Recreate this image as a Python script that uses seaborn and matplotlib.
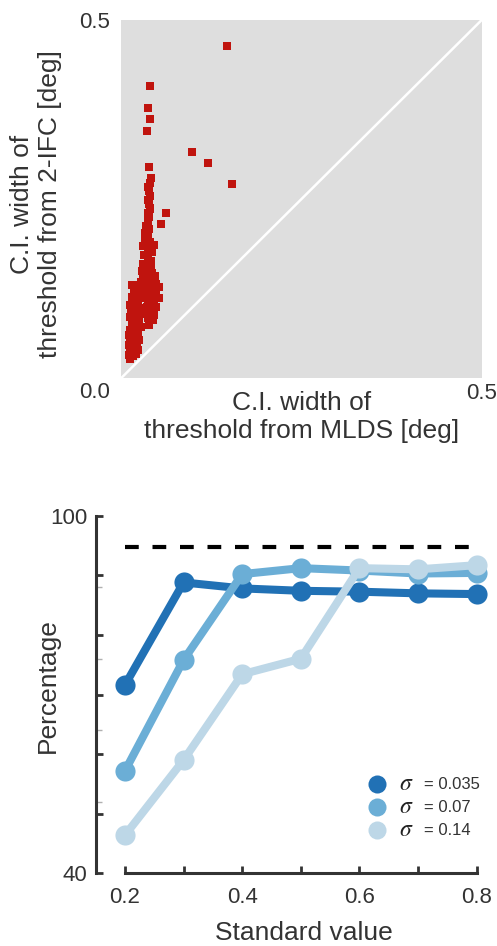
import numpy as np
import pandas as pd
import matplotlib
matplotlib.use("Agg")
import matplotlib.pyplot as plt
import seaborn as sns
from matplotlib.lines import Line2D

# ---------------- data: top panel (C.I. widths, deg) ----------------
mlds_ci = [
    # isolated points
    0.1465, 0.0402, 0.0379, 0.0402, 0.0360, 0.0989, 0.1206, 0.1539, 0.0393, 0.0619, 0.0550,
    # narrow upper stem
    0.041, 0.040, 0.038, 0.039, 0.040, 0.038, 0.039, 0.040, 0.038, 0.039, 0.037, 0.035,
    0.039, 0.034, 0.038, 0.033, 0.040, 0.045, 0.031, 0.037, 0.043, 0.032, 0.038, 0.042,
    0.031, 0.036, 0.041,
    # middle
    0.029, 0.035, 0.043, 0.047, 0.030, 0.038, 0.028, 0.034, 0.042, 0.048,
    0.016, 0.022, 0.029, 0.037, 0.045, 0.052, 0.018, 0.026, 0.033, 0.041, 0.049, 0.015,
    0.021, 0.031, 0.038, 0.046, 0.053, 0.024, 0.044,
    0.013, 0.019, 0.027, 0.036, 0.042, 0.048, 0.014, 0.021, 0.030, 0.039, 0.046, 0.013,
    0.019, 0.025, 0.037, 0.044, 0.015, 0.022, 0.039, 0.028,
    # lower tail
    0.012, 0.018, 0.024, 0.011, 0.017, 0.023, 0.012, 0.019, 0.025, 0.011, 0.016, 0.022,
    0.012, 0.018, 0.024, 0.011, 0.016, 0.021, 0.013,
]
ifc_ci = [
    0.4640, 0.4074, 0.3767, 0.3619, 0.3447, 0.3153, 0.3010, 0.2716, 0.2953, 0.2302, 0.2158,
    0.280, 0.273, 0.267, 0.261, 0.255, 0.249, 0.243, 0.237, 0.231, 0.225, 0.219, 0.213,
    0.208, 0.203, 0.199, 0.194, 0.190, 0.186, 0.184, 0.180, 0.177, 0.172, 0.168, 0.164,
    0.160, 0.156, 0.154,
    0.150, 0.148, 0.147, 0.143, 0.141, 0.140, 0.135, 0.133, 0.136, 0.132,
    0.130, 0.128, 0.126, 0.127, 0.125, 0.128, 0.121, 0.119, 0.120, 0.118, 0.117, 0.113,
    0.111, 0.112, 0.110, 0.109, 0.112, 0.106, 0.104,
    0.102, 0.100, 0.098, 0.099, 0.097, 0.100, 0.093, 0.091, 0.090, 0.092, 0.089, 0.085,
    0.083, 0.081, 0.084, 0.082, 0.077, 0.075, 0.075, 0.072,
    0.068, 0.066, 0.067, 0.061, 0.059, 0.060, 0.054, 0.052, 0.053, 0.047, 0.045, 0.046,
    0.040, 0.038, 0.039, 0.033, 0.031, 0.034, 0.027,
]
axis_range = [0.0, 0.5]

# ---------------- data: bottom panel (percentage) ----------------
standards = [0.2, 0.3, 0.4, 0.5, 0.6, 0.7, 0.8]
pct_sigma_035 = [71.6, 88.8, 87.8, 87.4, 87.25, 86.97, 86.85]
pct_sigma_07 = [57.2, 75.8, 90.2, 91.2, 90.8, 90.3, 90.4]
pct_sigma_14 = [46.4, 59.0, 73.4, 76.0, 91.2, 91.0, 91.7]
sigma_labels = ["0.035", "0.07", "0.14"]
reference_pct = 94.7
y_major_ticks = [40, 50, 60, 70, 80, 90, 100]
y_major_labels = ["40", "", "", "", "", "", "100"]
y_minor_ticks = [52, 64, 76, 88]
x_ticks = [0.2, 0.3, 0.4, 0.5, 0.6, 0.7, 0.8]
x_tick_labels = ["0.2", "", "0.4", "", "0.6", "", "0.8"]

# ---------------- style ----------------
sns.set_style("white")
plt.rcParams["font.family"] = ["Liberation Sans", "DejaVu Sans"]
plt.rcParams["mathtext.fontset"] = "stix"
TXT = "#333333"
RED = "#c0140e"
palette = ["#2171b5", "#6baed6", "#bdd7e7"]
LABEL_FS = 19

W, H = 497, 946
fig = plt.figure(figsize=(W / 100, H / 100), dpi=100)

# ---------------- top panel ----------------
ax1 = fig.add_axes([121 / W, 1 - 378.3 / H, 360.7 / W, 358.3 / H])
ax1.set_facecolor("#dedede")
ax1.plot(axis_range, axis_range, color="white", lw=1.8, zorder=1)
sns.scatterplot(x=mlds_ci, y=ifc_ci, marker="s", s=34, color=RED,
                edgecolor="none", linewidth=0, ax=ax1, zorder=3)
ax1.set_xlim(axis_range)
ax1.set_ylim(axis_range)
for sp in ax1.spines.values():
    sp.set_visible(False)
ax1.set_xticks([0.5])
ax1.set_xticklabels(["0.5"])
ax1.set_yticks([0.5])
ax1.set_yticklabels(["0.5"])
ax1.tick_params(axis="x", length=0, pad=3.5, labelsize=16, labelcolor=TXT)
ax1.tick_params(axis="y", length=0, pad=8, labelsize=16, labelcolor=TXT)
ax1.annotate("0.0", xy=(0, 0), xycoords="axes fraction", xytext=(-11, -4),
             textcoords="offset pixels", ha="right", va="top", fontsize=16, color=TXT)
ax1.set_xlabel("C.I. width of\nthreshold from MLDS [deg]", fontsize=LABEL_FS, color=TXT,
               linespacing=1.2)
ax1.xaxis.set_label_coords(0.5, -0.035)
ax1.xaxis.label.set_va("top")
ax1.set_ylabel("C.I. width of\nthreshold from 2-IFC [deg]", fontsize=LABEL_FS, color=TXT,
               linespacing=1.2)
ax1.yaxis.set_label_coords(-0.163, 0.485)

# ---------------- bottom panel ----------------
xlo, xhi = 0.1505, 0.82
ax2 = fig.add_axes([96 / W, 1 - 873.3 / H, (xhi - xlo) * 586 / W, 357.6 / H])
df = pd.DataFrame({
    "standard": standards * 3,
    "pct": pct_sigma_035 + pct_sigma_07 + pct_sigma_14,
    "sigma": [sigma_labels[0]] * 7 + [sigma_labels[1]] * 7 + [sigma_labels[2]] * 7,
})
ax2.plot([standards[0], standards[-1]], [reference_pct, reference_pct], color="black",
         lw=3, linestyle=(0, (3.3, 3.3)), solid_capstyle="butt", dash_capstyle="butt",
         zorder=1)
sns.lineplot(data=df, x="standard", y="pct", hue="sigma", hue_order=sigma_labels,
             palette=palette, marker="o", markersize=14.5, markeredgewidth=0,
             linewidth=5.8, errorbar=None, legend=False, ax=ax2, zorder=2)
ax2.set_xlim(xlo, xhi)
ax2.set_ylim(40, 100)
ax2.spines["top"].set_visible(False)
ax2.spines["right"].set_visible(False)
for s in ("left", "bottom"):
    ax2.spines[s].set_color("#333333")
    ax2.spines[s].set_linewidth(2.2)
ax2.spines["bottom"].set_bounds(standards[0], standards[-1])
ax2.spines["left"].set_bounds(40, 100)
ax2.set_yticks(y_major_ticks)
ax2.set_yticklabels(y_major_labels)
ax2.set_yticks(y_minor_ticks, minor=True)
ax2.set_xticks(x_ticks)
ax2.set_xticklabels(x_tick_labels)
ax2.tick_params(which="major", direction="in", length=5, width=2, color="#333333",
                labelsize=16, labelcolor=TXT, left=True, bottom=True)
ax2.tick_params(axis="y", which="major", pad=6)
ax2.tick_params(axis="x", which="major", pad=10)
ax2.tick_params(axis="y", which="minor", direction="in", length=4, width=1,
                color="#b0b0b0", left=True)
ax2.set_xlabel("Standard value", fontsize=LABEL_FS, color=TXT)
ax2.xaxis.set_label_coords(0.530, -0.132)
ax2.xaxis.label.set_va("top")
ax2.set_ylabel("Percentage", fontsize=LABEL_FS, color=TXT)
ax2.yaxis.set_label_coords(-0.092, 0.524)

handles = [Line2D([], [], marker="o", linestyle="", markersize=13, markeredgewidth=0,
                  color=c) for c in palette]
leg = ax2.legend(handles, ["= " + s for s in sigma_labels], loc="upper left",
                 bbox_to_anchor=(0.694, 0.268), frameon=False, fontsize=12,
                 handlelength=1.0, handletextpad=2.33, labelspacing=0.48,
                 borderpad=0, borderaxespad=0)
for t in leg.get_texts():
    t.set_color(TXT)

fig.canvas.draw()
for t in leg.get_texts():
    bb = t.get_window_extent()
    fig.text((bb.x0 - 18) / W, (bb.y0 + bb.y1) / 2 / H + 0.001, r"$\sigma$",
             fontsize=17, color="#222222", ha="center", va="center")

fig.savefig("out.png", dpi=100)
